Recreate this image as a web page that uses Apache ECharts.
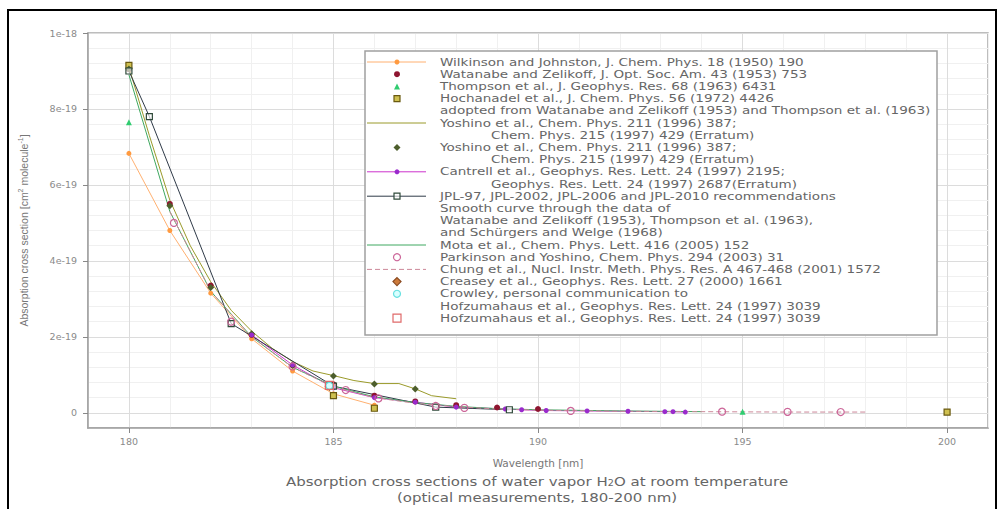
<!DOCTYPE html>
<html><head><meta charset="utf-8">
<script src="https://cdn.jsdelivr.net/npm/echarts@6/dist/echarts.min.js"></script>
<style>html,body{margin:0;padding:0;background:#fff}#c{width:1004px;height:509px}</style>
</head><body><div id="c"></div>
<script>
// ---------- DATA (cross sections in units of 1e-19 cm^2 molecule^-1) ----------
const xTicks = [180, 185, 190, 195, 200];
const yTicks = [0, 2, 4, 6, 8, 10];
const yTickLabels = ['0', '2e-19', '4e-19', '6e-19', '8e-19', '1e-18'];

const wilkinson  = [[180,6.83],[181,4.8],[182,3.15],[183,1.95],[184,1.1],[185,0.5],[186,0.2]];
const watanabe   = [[180,9.05],[181,5.5],[182,3.35],[183,2.05],[184,1.25],[185,0.75],[186,0.45],[187,0.3],[188,0.2],[189,0.14],[190,0.1]];
const thompson   = [[180,7.65],[195,0.03]];
const hochanadel = [[180,9.15],[185,0.45],[186,0.12],[200,0.02]];
const yoshinoLine= [[180,9.1],[180.5,7.3],[181,5.6],[181.5,4.4],[182,3.45],[182.5,2.7],[183,2.15],[183.5,1.7],[184,1.35],[184.5,1.1],[185,0.98],[185.5,0.85],[186,0.77],[186.6,0.77],[187,0.63],[187.4,0.45],[188,0.37]];
const yoshinoPts = [[180,9.05],[181,5.45],[182,3.3],[183,2.08],[184,1.25],[185,0.97],[186,0.76],[187,0.63]];
const cantrell   = [[183,2.05],[184,1.26],[185,0.66],[186,0.4],[187,0.28],[188,0.15],[189.2,0.1],[189.6,0.08],[190.2,0.06],[191.2,0.05],[192.2,0.04],[193.1,0.03],[193.3,0.03],[193.6,0.02]];
const jpl        = [[180,9.0],[180.5,7.8],[182.5,2.35],[185,0.7],[187.5,0.15],[189.3,0.08]];
const mota       = [[180,8.9],[181,5.3],[182,3.2],[183,2.0],[184,1.2],[185,0.7],[186,0.42],[187,0.27],[188,0.17],[189,0.11],[190,0.08],[192,0.05],[194,0.03]];
const parkinson  = [[181.1,5.0],[182.5,2.4],[184,1.22],[185.3,0.6],[186.1,0.38],[187.5,0.18],[188.2,0.13],[190.8,0.05],[194.5,0.03],[196.1,0.025],[197.4,0.02]];
const chung      = [[181,5.3],[182,3.2],[183,2.0],[184,1.2],[185,0.68],[186,0.4],[187,0.25],[188,0.16],[189,0.1],[190,0.07],[192,0.04],[194,0.03],[196,0.02],[198,0.02]];
const creasey    = [[184.9,0.7]];
const crowley    = [[184.9,0.71]];
const hofzumahaus= [[184.9,0.72]];

const seriesNames = [
  'Wilkinson and Johnston, J. Chem. Phys. 18 (1950) 190',
  'Watanabe and Zelikoff, J. Opt. Soc. Am. 43 (1953) 753',
  'Thompson et al., J. Geophys. Res. 68 (1963) 6431',
  'Hochanadel et al., J. Chem. Phys. 56 (1972) 4426',
  'Yoshino et al., Chem. Phys. 211 (1996) 387;',
  'Yoshino et al., Chem. Phys. 211 (1996) 387; ',
  'Cantrell et al., Geophys. Res. Lett. 24 (1997) 2195;',
  'JPL-97, JPL-2002, JPL-2006 and JPL-2010 recommendations',
  'Mota et al., Chem. Phys. Lett. 416 (2005) 152',
  'Parkinson and Yoshino, Chem. Phys. 294 (2003) 31',
  'Chung et al., Nucl. Instr. Meth. Phys. Res. A 467-468 (2001) 1572',
  'Creasey et al., Geophys. Res. Lett. 27 (2000) 1661',
  'Crowley, personal communication to',
  'Hofzumahaus et al., Geophys. Res. Lett. 24 (1997) 3039'
];
// extra legend lines following each entry's first line
const legendMore = [
  [], [], [],
  ['adopted from Watanabe and Zelikoff (1953) and Thompson et al. (1963)'],
  ['Chem. Phys. 215 (1997) 429 (Erratum)'],
  ['Chem. Phys. 215 (1997) 429 (Erratum)'],
  ['Geophys. Res. Lett. 24 (1997) 2687(Erratum)'],
  ['Smooth curve through the data of', 'Watanabe and Zelikoff (1953), Thompson et al. (1963),', 'and Schürgers and Welge (1968)'],
  [], [], [], [],
  ['Hofzumahaus et al., Geophys. Res. Lett. 24 (1997) 3039'],
  []
];
const allData = [wilkinson, watanabe, thompson, hochanadel, yoshinoLine, yoshinoPts, cantrell, jpl, mota, parkinson, chung, creasey, crowley, hofzumahaus];

// ---------- STYLES ----------
const STY = [
  {line:'#ffb070', lw:1, sym:'circle', ss:5, fill:'#ff9a40'},
  {sym:'circle', ss:6, fill:'#8e1530'},
  {sym:'triangle', ss:6, fill:'#30cc70'},
  {sym:'rect', ss:6, fill:'#cfc050', stroke:'#6a5a10'},
  {line:'#9a9a2a', lw:1},
  {sym:'diamond', ss:7, fill:'#4d5e2c'},
  {line:'#cc33cc', lw:1, sym:'circle', ss:5, fill:'#9a2acc'},
  {line:'#2f3a48', lw:1, sym:'rect', ss:6, fill:'rgba(255,255,255,0.6)', stroke:'#2f4a3a'},
  {line:'#3fa860', lw:1},
  {sym:'circle', ss:7, fill:'rgba(255,255,255,0)', stroke:'#cc6699'},
  {line:'#cc8899', lw:1, dash:true},
  {sym:'diamond', ss:8, fill:'#cc7a3a', stroke:'#8a4a20'},
  {sym:'circle', ss:7, fill:'#d8ffff', stroke:'#66e0e0'},
  {sym:'rect', ss:8, fill:'rgba(255,255,255,0)', stroke:'#e06a6a'}
];
const indentIdx = [4, 5, 6];
const FONT = 'DejaVu Sans';

function buildSeries(i) {
  const st = STY[i];
  const s = {name: seriesNames[i], data: allData[i], xAxisIndex: 0, yAxisIndex: 0, z: 3, animation: false, silent: true};
  if (st.line) {
    s.type = 'line';
    s.lineStyle = {color: st.line, width: st.lw, type: st.dash ? [5, 3] : 'solid'};
    s.symbol = st.sym || 'none';
    s.showSymbol = !!st.sym;
  } else {
    s.type = 'scatter';
    s.symbol = st.sym;
  }
  s.symbolSize = st.ss || 5;
  s.itemStyle = {color: st.fill || st.line, borderColor: st.stroke || st.fill || st.line, borderWidth: st.stroke ? 1.2 : 0, opacity: 1};
  return s;
}

// legend built as graphic
function buildLegend() {
  const els = [];
  const X0 = 365, Y0 = 51, W = 572, H = 284;
  els.push({type:'rect', shape:{x:X0, y:Y0, width:W, height:H}, style:{fill:'#fff', stroke:'#a0a0a0', lineWidth:1.5}, z:100});
  const firstY = 62, dy = 12.2, mx = 397, tx = 440, tIndent = 491;
  let li = 0;
  for (let i = 0; i < seriesNames.length; i++) {
    const st = STY[i];
    const y = firstY + li * dy;
    if (st.line) {
      els.push({type:'line', shape:{x1:367, y1:y, x2:426, y2:y}, style:{stroke:st.line, lineWidth:st.lw, lineDash: st.dash ? [5,3] : null}, z:101});
    }
    if (st.sym) {
      const r = st.ss / 2;
      const style = {fill: st.fill, stroke: st.stroke || null, lineWidth: st.stroke ? 1.2 : 0};
      let el;
      if (st.sym === 'circle') el = {type:'circle', shape:{cx:mx, cy:y, r:r}};
      else if (st.sym === 'rect') el = {type:'rect', shape:{x:mx - r, y:y - r, width:st.ss, height:st.ss}};
      else if (st.sym === 'triangle') el = {type:'polygon', shape:{points:[[mx, y - r],[mx + r, y + r],[mx - r, y + r]]}};
      else el = {type:'polygon', shape:{points:[[mx, y - r],[mx + r, y],[mx, y + r],[mx - r, y]]}};
      el.style = style; el.z = 102;
      els.push(el);
    }
    const lines = [seriesNames[i].trim()].concat(legendMore[i]);
    lines.forEach((t, k) => {
      const ind = k > 0 && indentIdx.indexOf(i) >= 0;
      els.push({type:'text', x: ind ? tIndent : tx, y: firstY + (li + k) * dy, scaleX: 1.23,
        style:{text:t, fill:'#666', font:'11px "' + FONT + '"', lineHeight: 12, textVerticalAlign:'middle', textAlign:'left'}, z:103});
    });
    li += lines.length;
  }
  return els;
}

const chart = echarts.init(document.getElementById('c'), null, {renderer: 'svg', width: 1004, height: 509});

const graphics = buildLegend();
// outer border
graphics.push({type:'rect', shape:{x:8, y:10, width:988, height:520}, style:{fill:'none', stroke:'#000', lineWidth:2}, z:200});
// caption
graphics.push({type:'text', x:537, y:481, z:50, scaleX: 1.2,
  style:{text:'Absorption cross sections of water vapor H{sub|2}O at room temperature', textAlign:'center', textVerticalAlign:'middle',
    font:'12.5px "' + FONT + '"', fill:'#666', rich:{sub:{fontSize:8, verticalAlign:'bottom', lineHeight:9, fill:'#666', fontFamily:FONT}}}});
graphics.push({type:'text', x:537, y:497, z:50, scaleX: 1.2,
  style:{text:'(optical measurements, 180-200 nm)', textAlign:'center', textVerticalAlign:'middle', font:'12.5px "' + FONT + '"', fill:'#666'}});

const option = {
  animation: false,
  backgroundColor: '#fff',
  textStyle: {fontFamily: FONT},
  grid: {left: 88, right: 16, top: 33, bottom: 81, show: true, borderColor: '#a8a8a8', borderWidth: 1.5, backgroundColor: 'transparent'},
  xAxis: [
    {type:'value', min:179, max:201, position:'bottom', z:2,
     axisLine:{show:true, onZero:false, lineStyle:{color:'#a0a0a0', width:1.5}},
     axisTick:{show:true, customValues:xTicks, length:5, lineStyle:{color:'#888'}},
     axisLabel:{show:true, customValues:xTicks, margin:8, fontSize:9.5, color:'#8a8a8a', fontFamily:FONT},
     splitLine:{show:true, lineStyle:{color:'#dcdcdc', width:1}},
     name:'Wavelength [nm]', nameLocation:'middle', nameGap:29,
     nameTextStyle:{fontSize:10.5, color:'#777', fontFamily:FONT}},
    {type:'value', min:179, max:201, interval:1, position:'top', z:1,
     axisLine:{show:false}, axisTick:{show:false}, axisLabel:{show:false},
     splitLine:{show:true, lineStyle:{color:'#f0f0f0', width:1}}}
  ],
  yAxis: [
    {type:'value', min:-0.4, max:10, position:'left', z:2,
     axisLine:{show:true, onZero:false, lineStyle:{color:'#a0a0a0', width:1.5}},
     axisTick:{show:true, customValues:yTicks, length:5, lineStyle:{color:'#888'}},
     axisLabel:{show:true, customValues:yTicks, margin:11, fontSize:9.5, color:'#8a8a8a', fontFamily:FONT,
       formatter: v => { const k = yTicks.indexOf(Math.round(v)); return k >= 0 ? yTickLabels[k] : ''; }},
     splitLine:{show:true, lineStyle:{color:'#dcdcdc', width:1}},
     name:'Absorption cross section [cm{sup|2} molecule{sup|-1}]', nameLocation:'middle', nameGap:58, nameRotate:90,
     nameTextStyle:{fontSize:10.5, color:'#777', fontFamily:'Liberation Sans', lineHeight:13,
       rich:{sup:{fontSize:7, verticalAlign:'top', lineHeight:7, color:'#777', fontFamily:'Liberation Sans'}}}},
    {type:'value', min:-0.4, max:10, interval:0.4, position:'right', z:1,
     axisLine:{show:false}, axisTick:{show:false}, axisLabel:{show:false},
     splitLine:{show:true, lineStyle:{color:'#f0f0f0', width:1}}}
  ],
  series: allData.map((d, i) => buildSeries(i)),
  graphic: graphics
};
chart.setOption(option);
</script>
</body></html>
